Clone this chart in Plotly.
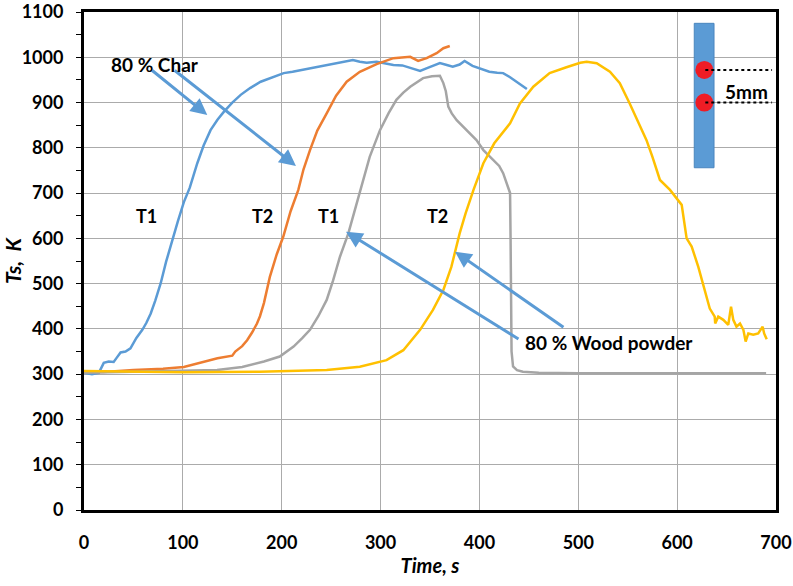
import plotly.graph_objects as go

# ---------------- data ----------------
char_t1_x = [0, 8, 15, 20, 25, 30, 33, 37, 42, 47, 53, 59, 63, 67.5, 72, 77.6, 83, 89, 95, 101, 107, 114.6, 121, 128, 135,
             141.6, 150, 158.5, 168, 178.7, 190, 202, 211, 225, 245, 260, 272, 279, 286, 296, 305, 313, 322, 330, 340,
             347, 355, 360, 367, 373, 380, 385, 393, 402, 410, 418, 424, 431, 438, 448]
char_t1_y = [303, 300, 303, 325, 328, 327, 336, 348, 350, 357, 380, 398, 413, 434, 462, 501, 548, 596, 638, 680, 712, 766,
             805, 839, 862, 880, 900, 917, 932, 946, 956, 965, 968, 974, 983, 988, 994, 990, 988, 990, 987, 983, 982, 976,
             970, 976, 982, 987, 983, 979, 984, 992, 981, 975, 968, 966, 965, 956, 946, 930]

char_t2_x = [0, 20, 50, 80, 101, 118, 135, 150, 153, 160, 165, 170, 175, 178, 182, 188, 195, 201.6, 209, 216.8, 222,
             228.6, 236, 245.5, 255, 265.7, 279, 296, 313, 330, 335, 338, 346.6, 356.7, 363.5, 370]
char_t2_y = [305, 305, 309, 312, 316, 325, 335, 341, 350, 362, 375, 392, 412, 428, 457, 515, 565, 604, 660, 707, 752,
             795, 838, 876, 915, 946, 968, 985, 998, 1001, 996, 992, 998, 1009, 1020, 1025]

wood_t1_x = [0, 50, 100, 134.6, 160, 182, 198, 212, 221, 228.6, 237, 245.5, 252, 259, 267.4, 275.8, 282, 289, 299.4, 308,
             316, 323, 330, 337, 343, 352, 360, 363.5, 366, 368.5, 372, 377, 387, 397, 404, 414, 420, 424, 429, 431,
             431.5, 432, 432.5, 434, 438, 444, 460, 500, 600, 690]
wood_t1_y = [303, 305, 307, 309, 316, 328, 339, 361, 380, 398, 428, 464, 507, 560, 611, 677, 725, 780, 839, 876,
             906, 922, 935, 946, 954, 958, 959, 943, 925, 891, 876, 861, 839, 817, 795, 773, 760, 744, 714, 700,
             600, 450, 350, 317, 309, 305.5, 303, 302, 302, 302]

wood_t2_x = [0, 50, 100, 178, 245.5, 279, 306, 323, 340, 353, 363.5, 371.6, 380, 386, 394, 404, 415, 431, 441, 454.5,
             471, 488, 502, 508.5, 518.6, 532, 542, 552, 562, 569, 575, 582.6, 592.8, 599.5, 604.6, 609.6, 614.7,
             621.4, 628, 633, 638, 638.5, 641.6, 646.7, 651.7, 654.5, 656.8, 660, 663.6, 667, 669.3, 672, 677, 682,
             686.5, 688, 690.6]
wood_t2_y = [307, 305, 304, 305.5, 309, 316.5, 331, 353, 398, 442, 486, 537, 611, 655, 707, 766, 810, 854, 898, 935,
             965, 978, 988, 990, 987, 968, 943, 898, 850, 817, 780, 729, 707, 688, 674, 600, 582,
             537, 486, 445, 427, 412, 427, 420, 409, 449, 420, 405, 412, 398, 372, 390, 387, 390,
             405, 390, 377]

x_ticks = [0, 100, 200, 300, 400, 500, 600, 700]
y_ticks = [0, 100, 200, 300, 400, 500, 600, 700, 800, 900, 1000, 1100]

# labels (text, x, y)
curve_labels = [("T1", 63, 649), ("T2", 181, 649), ("T1", 247, 649), ("T2", 358, 649)]
# arrows: (tail_x, tail_y, head_x, head_y)
char_arrows = [(67.5, 973.5, 124.7, 872.5), (90.3, 973.5, 214.4, 760)]
wood_arrows = [(441, 375.5, 265, 614.8), (486.5, 401.4, 375.3, 570.6)]
# schematic
rod_x = [617.3, 637.3]
rod_y = [756, 1075]
probe_x = [627.5, 627.5]
probe_y = [972, 900]

BLUE = "#5B9BD5"
ORANGE = "#ED7D31"
GREY = "#A5A5A5"
YELLOW = "#FFC000"
FONT = "Lato"

fig = go.Figure()
for xs, ys, c in [(char_t1_x, char_t1_y, BLUE), (char_t2_x, char_t2_y, ORANGE),
                  (wood_t1_x, wood_t1_y, GREY), (wood_t2_x, wood_t2_y, YELLOW)]:
    fig.add_trace(go.Scatter(x=xs, y=ys, mode="lines", line=dict(color=c, width=2.5),
                             showlegend=False, hoverinfo="skip"))

# schematic rod
fig.add_shape(type="rect", x0=rod_x[0], x1=rod_x[1], y0=rod_y[0], y1=rod_y[1],
              fillcolor=BLUE, line=dict(color="#4A86BF", width=1), layer="above")
rx, ry = 9.0 / 0.9886, 9.0 / 0.4527
for px_, py in zip(probe_x, probe_y):
    fig.add_shape(type="circle", x0=px_ - rx, x1=px_ + rx, y0=py - ry, y1=py + ry,
                  fillcolor="#EE1C25", line=dict(width=0), layer="above")
for py in probe_y:
    fig.add_shape(type="line", x0=probe_x[0] + 1, x1=696, y0=py, y1=py,
                  line=dict(color="black", width=2, dash="dot"), layer="above")

anns = []
anns.append(dict(x=670, y=924, text="<b>5mm</b>", showarrow=False, xref="x", yref="y",
                 font=dict(family=FONT, size=19, color="black")))
for t, x, y in curve_labels:
    anns.append(dict(x=x, y=y, text="<b>%s</b>" % t, showarrow=False, xref="x", yref="y",
                     font=dict(family=FONT, size=18, color="black")))
for tx, ty, hx, hy in char_arrows + wood_arrows:
    anns.append(dict(x=hx, y=hy, ax=tx, ay=ty, xref="x", yref="y", axref="x", ayref="y",
                     text="", showarrow=True, arrowhead=2, arrowsize=1.1, arrowwidth=3,
                     arrowcolor=BLUE, standoff=0, startstandoff=0))
anns.append(dict(x=72, y=983, text="<b>80 % Char</b>", showarrow=False, xref="x", yref="y",
                 font=dict(family=FONT, size=19, color="black"), xanchor="center"))
anns.append(dict(x=531, y=370, text="<b>80 % Wood powder</b>", showarrow=False, xref="x", yref="y",
                 font=dict(family=FONT, size=19, color="black"), xanchor="center"))

fig.update_layout(
    width=793, height=586,
    margin=dict(l=84, r=17, t=12, b=76, autoexpand=False),
    paper_bgcolor="white", plot_bgcolor="white",
    annotations=anns,
    font=dict(family=FONT, color="black"),
)
fig.update_xaxes(range=[0, 700], tickvals=x_ticks, ticktext=["<b>%d</b>" % v for v in x_ticks],
                 tickfont=dict(family=FONT, size=18, color="black"),
                 showgrid=True, gridcolor="#ABABAB", gridwidth=1,
                 showline=True, linecolor="black", linewidth=3, mirror=True,
                 ticks="", ticklabelstandoff=14, zeroline=False, automargin=False,
                 title=dict(text="<b><i>Time, s</i></b>", font=dict(family=FONT, size=20, color="black"),
                            standoff=8))
fig.update_yaxes(range=[0, 1100], tickvals=y_ticks, ticktext=["<b>%d</b>" % v for v in y_ticks],
                 tickfont=dict(family=FONT, size=18, color="black"),
                 showgrid=True, gridcolor="#ABABAB", gridwidth=1,
                 showline=True, linecolor="black", linewidth=3, mirror=True,
                 ticks="", ticklabelstandoff=14, zeroline=False, automargin=False,
                 minor=dict(ticks="outside", ticklen=5, tickcolor="black", tickwidth=1, dtick=50,
                            tick0=50, showgrid=False),
                 title=dict(text="<b><i>Ts,\u00a0\u00a0K</i></b>", font=dict(family=FONT, size=21, color="black"),
                            standoff=6))

fig.write_html("out.html")
